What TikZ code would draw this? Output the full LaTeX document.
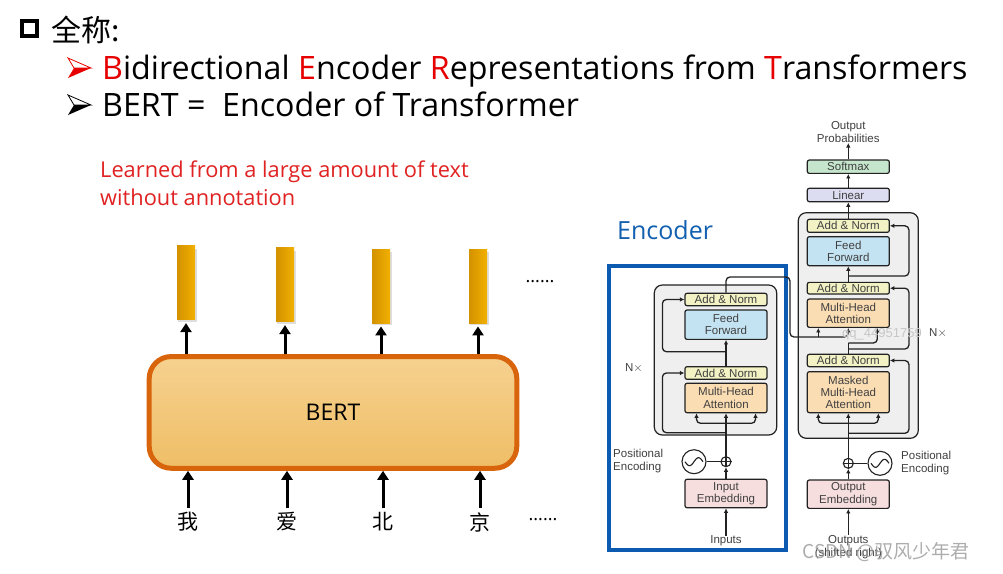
\documentclass[tikz,border=0pt]{standalone}
\usepackage{fontspec}
\setmainfont{Open Sans}
\newfontfamily\cjk{Noto Sans CJK SC}
\newfontfamily\helv{Liberation Sans}
\usetikzlibrary{arrows.meta,calc}
\definecolor{bertorange}{HTML}{D8640C}
\definecolor{berttop}{HTML}{F6D18F}
\definecolor{bertbot}{HTML}{EFBE66}
\definecolor{goldL}{HTML}{D39200}
\definecolor{goldR}{HTML}{F2B000}
\definecolor{titlered}{HTML}{E60000}
\definecolor{notered}{HTML}{E02222}
\definecolor{encblue}{HTML}{1260B0}
\definecolor{frameblue}{HTML}{0D5BB0}
\definecolor{grayfill}{HTML}{EFEFEF}
\definecolor{addc}{HTML}{F2F2C5}
\definecolor{ffc}{HTML}{C4E3F2}
\definecolor{mhac}{HTML}{FBDDB3}
\definecolor{embc}{HTML}{F7DEDE}
\definecolor{linc}{HTML}{DCDDF0}
\definecolor{softc}{HTML}{C5E5CC}
\definecolor{tline}{HTML}{222222}
\newcommand\bulletarrow[3]{%
  \draw[#3, line width=0.8pt, line join=miter] (#1,#2-10) -- (#1+23,#2) -- (#1+6,#2) -- cycle;
  \fill[#3] (#1+6,#2) -- (#1+23,#2) -- (#1,#2+10) -- cycle;
}
\tikzset{
  txt/.style={inner sep=0pt, anchor=base west},
  blk/.style={draw=tline, line width=1.2pt, rounded corners=2pt, minimum width=82pt,
    font=\helv\fontsize{11.5}{12.3}\selectfont, text=black!75, align=center, inner sep=0pt},
  addn/.style={blk, fill=addc},
  ffbox/.style={blk, fill=ffc},
  mhabox/.style={blk, fill=mhac},
  embbox/.style={blk, fill=embc},
  small/.style={font=\helv\fontsize{11.5}{13.5}\selectfont, text=black!75, align=center, inner sep=0pt},
  flow/.style={draw=tline, line width=1.3pt, rounded corners=4pt, -{Latex[length=4.5pt,width=4.5pt]}},
  plain/.style={draw=tline, line width=1.3pt, rounded corners=4pt},
  grayblk/.style={draw=tline, line width=1.2pt, fill=grayfill, rounded corners=8pt},
  plus/.style={draw=tline, line width=1.1pt, circle, minimum size=10pt, inner sep=0pt},
  sine/.style={draw=tline, line width=1.1pt, circle, minimum size=24pt, inner sep=0pt},
  bar/.style={minimum width=18pt, minimum height=74pt, inner sep=0pt, left color=goldL, right color=goldR},
  barrow/.style={line width=3pt, -{Triangle[length=9pt,width=11pt]}},
  chr/.style={font=\cjk\fontsize{21}{21}\selectfont, inner sep=0pt},
}
\begin{document}
\begin{tikzpicture}[x=1pt,y=-1pt]
\useasboundingbox (0,0) rectangle (1003,573);
\fill[white] (0,0) rectangle (1003,573);

% ---------- title ----------
\node[draw=black, line width=3.5pt, minimum size=15pt, inner sep=0pt] (sq) at (29.5,28.5) {};
\node[txt, font=\cjk\fontsize{30}{30}\selectfont] (t1) at (51,41) {全称:};
\bulletarrow{68}{68}{titlered}
\bulletarrow{68}{105}{black}
\node[txt, font=\fontsize{32.2}{32.2}\selectfont] (t2) at (102,79)
  {\textcolor{titlered}{B}idirectional \textcolor{titlered}{E}ncoder \textcolor{titlered}{R}epresentations from \textcolor{titlered}{T}ransformers};
\node[txt, font=\fontsize{32.2}{32.2}\selectfont] (t3) at (102,116) {BERT =\ \ Encoder of Transformer};

% ---------- note ----------
\node[txt, font=\fontsize{21.8}{21.8}\selectfont, text=notered] (n1) at (100,177) {Learned from a large amount of text};
\node[txt, font=\fontsize{21.8}{21.8}\selectfont, text=notered] (n2) at (100,205) {without annotation};

% ---------- BERT ----------
\node[draw=bertorange, line width=5pt, rounded corners=22pt, top color=berttop, bottom color=bertbot,
      minimum width=367.6pt, minimum height=111.7pt, inner sep=0pt,
      font=\fontsize{23}{23}\selectfont] (bert) at (333,412.4) {BERT};

\foreach \i/\x/\yt in {1/186/245.7, 2/285/247.7, 3/381/249, 4/478/249} {
  \fill[black!25, opacity=0.5] (\x-8,\yt+3) rectangle (\x+11,\yt+76);
  \node[bar, anchor=north] (bar\i) at (\x,\yt) {};
}
\foreach \i/\x/\c in {1/188/我, 2/287/爱, 3/383/北, 4/480/京} {
  \node[chr] (ch\i) at (\x,522) {\c};
}
\foreach \i in {1,...,4} {
  \draw[barrow] (bert.north -| bar\i.south) -- ([yshift=-3pt]bar\i.south);
  \draw[barrow] ([yshift=4pt]ch\i.north) -- (bert.south -| ch\i.north);
}
\node[font=\fontsize{18}{18}\selectfont, inner sep=0pt] (dots1) at (540,282) {......};
\node[font=\fontsize{18}{18}\selectfont, inner sep=0pt] (dots2) at (543,520) {......};

% ---------- Encoder label & frame ----------
\node[txt, font=\fontsize{25}{25}\selectfont, text=encblue] (enclab) at (617,239) {Encoder};
\draw[frameblue, line width=4pt] (609,265.5) rectangle (785.5,550);

% ---------- Encoder stack ----------
\draw[grayblk] (654.3,285) rectangle (776.7,435);
\node[addn, minimum height=12.4pt] (eAN2) at (726,299.5) {Add \& Norm};
\node[ffbox, minimum height=29.3pt] (eFF) at (726,324.7) {Feed\\Forward};
\node[addn, minimum height=12.6pt] (eAN1) at (726,373) {Add \& Norm};
\node[mhabox, minimum height=29.4pt] (eMHA) at (726,398) {Multi-Head\\Attention};
\node[plus] (ePlus) at (726,461.7) {};
\draw[tline, line width=1.1pt] (ePlus.north) -- (ePlus.south) (ePlus.west) -- (ePlus.east);
\node[sine] (ePE) at (694,461.7) {};
\draw[tline, line width=1.1pt] plot[domain=-9:9, samples=40] ({694+\x}, {461.7-4*sin(\x*20)});
\node[embbox, minimum height=28.4pt] (eEmb) at (726,493.5) {Input\\Embedding};
\node[small] (eIn) at (726,541) {Inputs};
\node[small, align=left, anchor=west] (ePosL) at (613,461) {Positional\\Encoding};
\node[small] (eN) at (634,368) {N$\times$};

\coordinate (eSplit) at (726,423.3);
\coordinate (eRes1) at (726,432.7);
\coordinate (eRes2) at (726,351.7);
\draw[flow] (eIn.north) -- (eEmb.south);
\draw[flow] (eEmb.north) -- (ePlus.south);
\draw[flow] (ePlus.north) -- (eMHA.south);
\draw[plain] (ePE.east) -- (ePlus.west);
\draw[flow] (eSplit) -| ([xshift=-29.5pt]eMHA.south);
\draw[flow] (eSplit) -| ([xshift=29.5pt]eMHA.south);
\draw[flow] (eRes1) -| ($(eAN1.west)+(-22,0)$) -- (eAN1.west);
\draw[flow] (eAN1.north) -- (eFF.south);
\draw[flow] (eRes2) -| ($(eAN2.west)+(-22,0)$) -- (eAN2.west);

% ---------- Decoder stack ----------
\draw[grayblk] (798.3,212.7) rectangle (918.3,438.3);
\node[blk, fill=softc, minimum height=13.3pt] (dSoft) at (848.3,166.7) {Softmax};
\node[blk, fill=linc, minimum height=13.4pt] (dLin) at (848.3,195) {Linear};
\node[addn, minimum height=13pt] (dAN3) at (848.3,225.8) {Add \& Norm};
\node[ffbox, minimum height=29pt] (dFF) at (848.3,251.2) {Feed\\Forward};
\node[addn, minimum height=11.7pt] (dAN2) at (848.3,288.2) {Add \& Norm};
\node[mhabox, minimum height=28.3pt] (dMHA) at (848.3,313.2) {Multi-Head\\Attention};
\node[addn, minimum height=12.4pt] (dAN1) at (848.3,360.5) {Add \& Norm};
\node[mhabox, minimum height=41pt] (dMMHA) at (848.3,392.2) {Masked\\Multi-Head\\Attention};
\node[plus] (dPlus) at (848.3,463.3) {};
\draw[tline, line width=1.1pt] (dPlus.north) -- (dPlus.south) (dPlus.west) -- (dPlus.east);
\node[sine] (dPE) at (880,463.3) {};
\draw[tline, line width=1.1pt] plot[domain=-9:9, samples=40] ({880+\x}, {463.3-4*sin(\x*20)});
\node[embbox, minimum height=28.3pt] (dEmb) at (848.3,494.2) {Output\\Embedding};
\node[small] (dOut) at (848.3,547) {Outputs\\(shifted right)};
\node[small] (dProb) at (848.3,132) {Output\\Probabilities};
\node[small, align=left, anchor=west] (dPosL) at (901,463) {Positional\\Encoding};
\node[small] (dN) at (938,333) {N$\times$};

\coordinate (dSplit) at (848.3,423.3);
\coordinate (dRes1) at (848.3,433.3);
\coordinate (dJ) at (848.3,343);
\coordinate (dRes2) at (848.3,349);
\coordinate (dRes3) at (848.3,276);
\coordinate (eTop) at (726,277);
\coordinate (eDown) at (790,337);
\draw[flow] (dOut.north) -- (dEmb.south);
\draw[flow] (dEmb.north) -- (dPlus.south);
\draw[flow] (dPlus.north) -- (dMMHA.south);
\draw[plain] (dPE.west) -- (dPlus.east);
\draw[flow] (dSplit) -| ([xshift=-30pt]dMMHA.south);
\draw[flow] (dSplit) -| ([xshift=30pt]dMMHA.south);
\draw[flow] (dRes1) -| ($(dAN1.east)+(19,0)$) -- (dAN1.east);
\draw[plain] (dAN1.north) -- (dJ);
\draw[flow] (dJ) -| ([xshift=29pt]dMHA.south);
\draw[flow] (dRes2) -| ($(dAN2.east)+(19,0)$) -- (dAN2.east);
\draw[flow] (eAN2.north) -- (eTop) -| (eDown) -| (dMHA.south);
\draw[flow] (818.3,337) -- ([xshift=-30pt]dMHA.south);
\draw[flow] (dAN2.north) -- (dFF.south);
\draw[flow] (dRes3) -| ($(dAN3.east)+(19,0)$) -- (dAN3.east);
\draw[flow] (dAN3.north) -- (dLin.south);
\draw[flow] (dLin.north) -- (dSoft.south);
\draw[flow] (dSoft.north) -- (dProb.south);

% ---------- watermarks ----------
\node[font=\helv\fontsize{13}{13}\selectfont, text=white!78!black, inner sep=0pt] (wm1) at (882,334) {qq\_44951759};
\node[font=\cjk\fontsize{19}{19}\selectfont, text=black!40, opacity=0.8, inner sep=0pt] (wm2) at (886,552) {CSDN @驭风少年君};
\end{tikzpicture}
\end{document}
